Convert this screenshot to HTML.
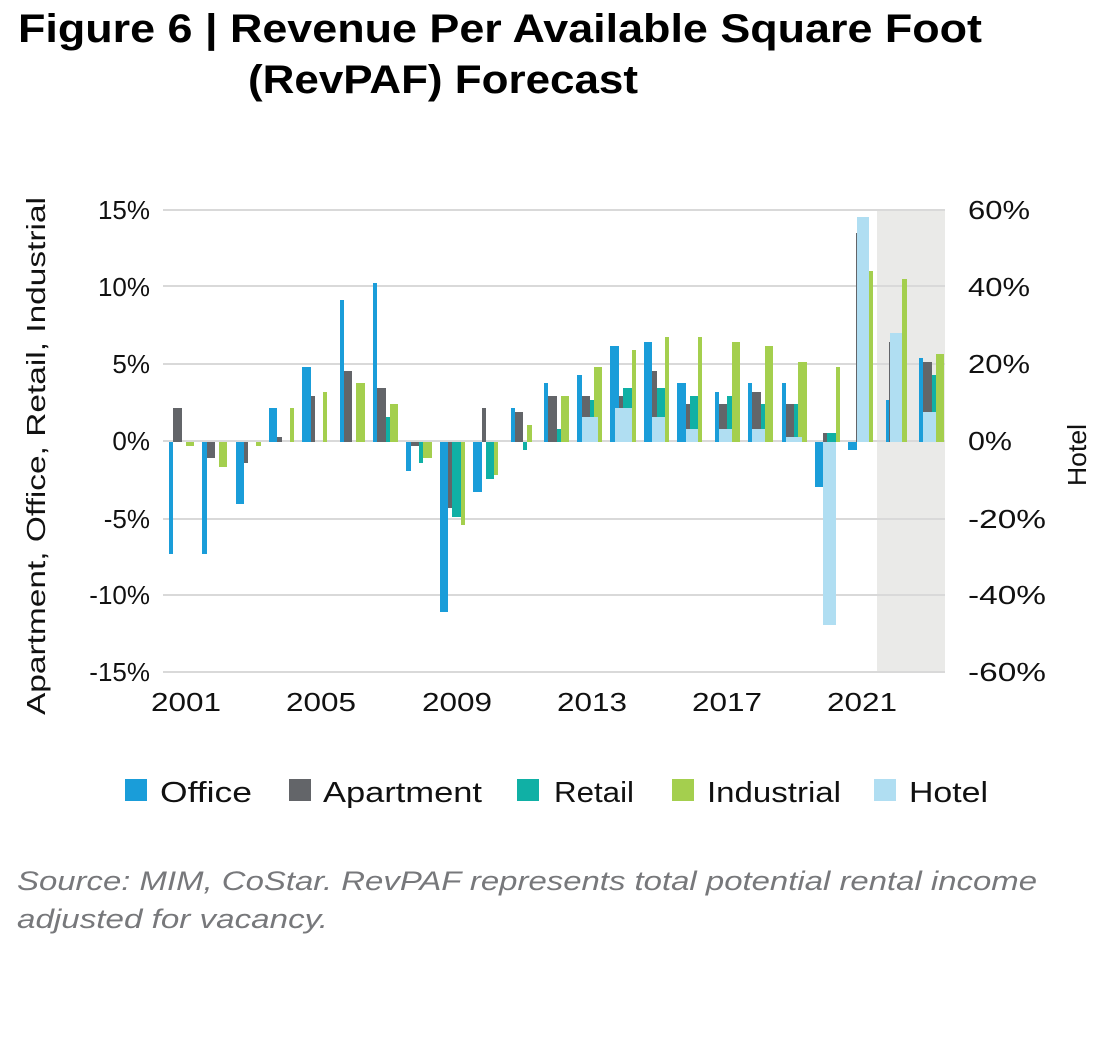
<!DOCTYPE html>
<html><head><meta charset="utf-8"><style>
html,body{margin:0;padding:0;background:#fff;}
svg{display:block;}
text{font-family:"Liberation Sans",sans-serif;}
</style></head><body>
<svg width="1113" height="1050" viewBox="0 0 1113 1050" xmlns="http://www.w3.org/2000/svg">
<text x="18" y="42" font-size="40" font-weight="bold" fill="#000" textLength="964" lengthAdjust="spacingAndGlyphs">Figure 6  |  Revenue Per Available Square Foot</text>
<text x="248" y="93" font-size="40" font-weight="bold" fill="#000" textLength="390" lengthAdjust="spacingAndGlyphs">(RevPAF) Forecast</text>

<rect x="877" y="210" width="68" height="463" fill="#eaeae8"/>
<g stroke="#d9d9d9" stroke-width="2">
<line x1="163" y1="210" x2="945" y2="210"/>
<line x1="163" y1="286" x2="945" y2="286"/>
<line x1="163" y1="364" x2="945" y2="364"/>
<line x1="163" y1="441" x2="945" y2="441"/>
<line x1="163" y1="519" x2="945" y2="519"/>
<line x1="163" y1="595" x2="945" y2="595"/>
<line x1="163" y1="672" x2="945" y2="672"/>
</g>

<g fill="#1a9dd9">
<rect x="169" y="442" width="4" height="112"/>
<rect x="202" y="442" width="5" height="112"/>
<rect x="236" y="442" width="8" height="62"/>
<rect x="269" y="408" width="8" height="34"/>
<rect x="302" y="367" width="9" height="75"/>
<rect x="340" y="300" width="4" height="142"/>
<rect x="373" y="283" width="4" height="159"/>
<rect x="406" y="442" width="5" height="29"/>
<rect x="440" y="442" width="8" height="170"/>
<rect x="473" y="442" width="9" height="50"/>
<rect x="511" y="408" width="4" height="34"/>
<rect x="544" y="383" width="4" height="59"/>
<rect x="577" y="375" width="5" height="67"/>
<rect x="610" y="346" width="9" height="96"/>
<rect x="644" y="342" width="8" height="100"/>
<rect x="677" y="383" width="9" height="59"/>
<rect x="715" y="392" width="4" height="50"/>
<rect x="748" y="383" width="4" height="59"/>
<rect x="782" y="383" width="4" height="59"/>
<rect x="815" y="442" width="8" height="45"/>
<rect x="848" y="442" width="9" height="8"/>
<rect x="886" y="400" width="4" height="42"/>
<rect x="919" y="358" width="4" height="84"/>
</g>
<g fill="#636569">
<rect x="173" y="408" width="9" height="34"/>
<rect x="207" y="442" width="8" height="16"/>
<rect x="244" y="442" width="4" height="21"/>
<rect x="277" y="437" width="5" height="5"/>
<rect x="311" y="396" width="4" height="46"/>
<rect x="344" y="371" width="8" height="71"/>
<rect x="377" y="388" width="9" height="54"/>
<rect x="411" y="442" width="8" height="4"/>
<rect x="448" y="442" width="4" height="66"/>
<rect x="482" y="408" width="4" height="34"/>
<rect x="515" y="412" width="8" height="30"/>
<rect x="548" y="396" width="9" height="46"/>
<rect x="582" y="396" width="8" height="46"/>
<rect x="619" y="396" width="4" height="46"/>
<rect x="652" y="371" width="5" height="71"/>
<rect x="686" y="404" width="4" height="38"/>
<rect x="719" y="404" width="8" height="38"/>
<rect x="752" y="392" width="9" height="50"/>
<rect x="786" y="404" width="8" height="38"/>
<rect x="823" y="433" width="4" height="9"/>
<rect x="856" y="233" width="2" height="209"/>
<rect x="889" y="342" width="2" height="100"/>
<rect x="923" y="362" width="9" height="80"/>
</g>
<g fill="#10b0a5">
<rect x="386" y="417" width="4" height="25"/>
<rect x="419" y="442" width="4" height="21"/>
<rect x="452" y="442" width="9" height="75"/>
<rect x="486" y="442" width="8" height="37"/>
<rect x="523" y="442" width="4" height="8"/>
<rect x="557" y="429" width="4" height="13"/>
<rect x="590" y="400" width="4" height="42"/>
<rect x="623" y="388" width="9" height="54"/>
<rect x="657" y="388" width="8" height="54"/>
<rect x="690" y="396" width="8" height="46"/>
<rect x="727" y="396" width="5" height="46"/>
<rect x="761" y="404" width="4" height="38"/>
<rect x="794" y="404" width="4" height="38"/>
<rect x="827" y="433" width="9" height="9"/>
<rect x="932" y="375" width="4" height="67"/>
</g>
<g fill="#a4cf4e">
<rect x="186" y="442" width="8" height="4"/>
<rect x="219" y="442" width="8" height="25"/>
<rect x="256" y="442" width="5" height="4"/>
<rect x="290" y="408" width="4" height="34"/>
<rect x="323" y="392" width="4" height="50"/>
<rect x="356" y="383" width="9" height="59"/>
<rect x="390" y="404" width="8" height="38"/>
<rect x="423" y="442" width="9" height="16"/>
<rect x="461" y="442" width="4" height="83"/>
<rect x="494" y="442" width="4" height="33"/>
<rect x="527" y="425" width="5" height="17"/>
<rect x="561" y="396" width="8" height="46"/>
<rect x="594" y="367" width="8" height="75"/>
<rect x="632" y="350" width="4" height="92"/>
<rect x="665" y="337" width="4" height="105"/>
<rect x="698" y="337" width="4" height="105"/>
<rect x="732" y="342" width="8" height="100"/>
<rect x="765" y="346" width="8" height="96"/>
<rect x="798" y="362" width="9" height="80"/>
<rect x="836" y="367" width="4" height="75"/>
<rect x="869" y="271" width="4" height="171"/>
<rect x="902" y="279" width="5" height="163"/>
<rect x="936" y="354" width="8" height="88"/>
</g>
<g fill="#b0def2">
<rect x="582" y="417" width="16" height="25"/>
<rect x="615" y="408" width="17" height="34"/>
<rect x="652" y="417" width="13" height="25"/>
<rect x="686" y="429" width="12" height="13"/>
<rect x="719" y="429" width="13" height="13"/>
<rect x="752" y="429" width="13" height="13"/>
<rect x="786" y="437" width="16" height="5"/>
<rect x="823" y="442" width="13" height="183"/>
<rect x="857" y="217" width="12" height="225"/>
<rect x="890" y="333" width="12" height="109"/>
<rect x="923" y="412" width="13" height="30"/>
</g>

<g font-size="26" fill="#111" text-anchor="end">
<text x="150" y="219">15%</text>
<text x="150" y="296">10%</text>
<text x="150" y="373">5%</text>
<text x="150" y="450">0%</text>
<text x="150" y="528">-5%</text>
<text x="150" y="604">-10%</text>
<text x="150" y="681">-15%</text>
</g>
<g font-size="26" fill="#111">
<text x="968" y="219" textLength="62" lengthAdjust="spacingAndGlyphs">60%</text>
<text x="968" y="296" textLength="62" lengthAdjust="spacingAndGlyphs">40%</text>
<text x="968" y="373" textLength="62" lengthAdjust="spacingAndGlyphs">20%</text>
<text x="968" y="450" textLength="44" lengthAdjust="spacingAndGlyphs">0%</text>
<text x="968" y="528" textLength="78" lengthAdjust="spacingAndGlyphs">-20%</text>
<text x="968" y="604" textLength="78" lengthAdjust="spacingAndGlyphs">-40%</text>
<text x="968" y="681" textLength="78" lengthAdjust="spacingAndGlyphs">-60%</text>
</g>
<g font-size="26" fill="#111">
<text x="151" y="711" textLength="70" lengthAdjust="spacingAndGlyphs">2001</text>
<text x="286" y="711" textLength="70" lengthAdjust="spacingAndGlyphs">2005</text>
<text x="422" y="711" textLength="70" lengthAdjust="spacingAndGlyphs">2009</text>
<text x="557" y="711" textLength="70" lengthAdjust="spacingAndGlyphs">2013</text>
<text x="692" y="711" textLength="70" lengthAdjust="spacingAndGlyphs">2017</text>
<text x="827" y="711" textLength="70" lengthAdjust="spacingAndGlyphs">2021</text>
</g>
<text transform="translate(45,456) rotate(-90)" font-size="26" fill="#111" text-anchor="middle" textLength="518" lengthAdjust="spacingAndGlyphs">Apartment, Office, Retail, Industrial</text>
<text transform="translate(1086,455) rotate(-90)" font-size="26" fill="#111" text-anchor="middle" textLength="62" lengthAdjust="spacingAndGlyphs">Hotel</text>

<g font-size="29" fill="#111">
<rect x="125" y="779" width="22" height="22" fill="#1a9dd9"/><text x="160" y="802" textLength="92" lengthAdjust="spacingAndGlyphs">Office</text>
<rect x="289" y="779" width="22" height="22" fill="#636569"/><text x="323" y="802" textLength="159" lengthAdjust="spacingAndGlyphs">Apartment</text>
<rect x="517" y="779" width="22" height="22" fill="#10b0a5"/><text x="554" y="802" textLength="80" lengthAdjust="spacingAndGlyphs">Retail</text>
<rect x="672" y="779" width="22" height="22" fill="#a4cf4e"/><text x="707" y="802" textLength="134" lengthAdjust="spacingAndGlyphs">Industrial</text>
<rect x="874" y="779" width="22" height="22" fill="#b0def2"/><text x="909" y="802" textLength="79" lengthAdjust="spacingAndGlyphs">Hotel</text>
</g>
<g font-size="27" fill="#77787b" font-style="italic">
<text x="17" y="890" textLength="1020" lengthAdjust="spacingAndGlyphs">Source: MIM, CoStar. RevPAF represents total potential rental income</text>
<text x="17" y="928" textLength="311" lengthAdjust="spacingAndGlyphs">adjusted for vacancy.</text>
</g>
</svg>
</body></html>
